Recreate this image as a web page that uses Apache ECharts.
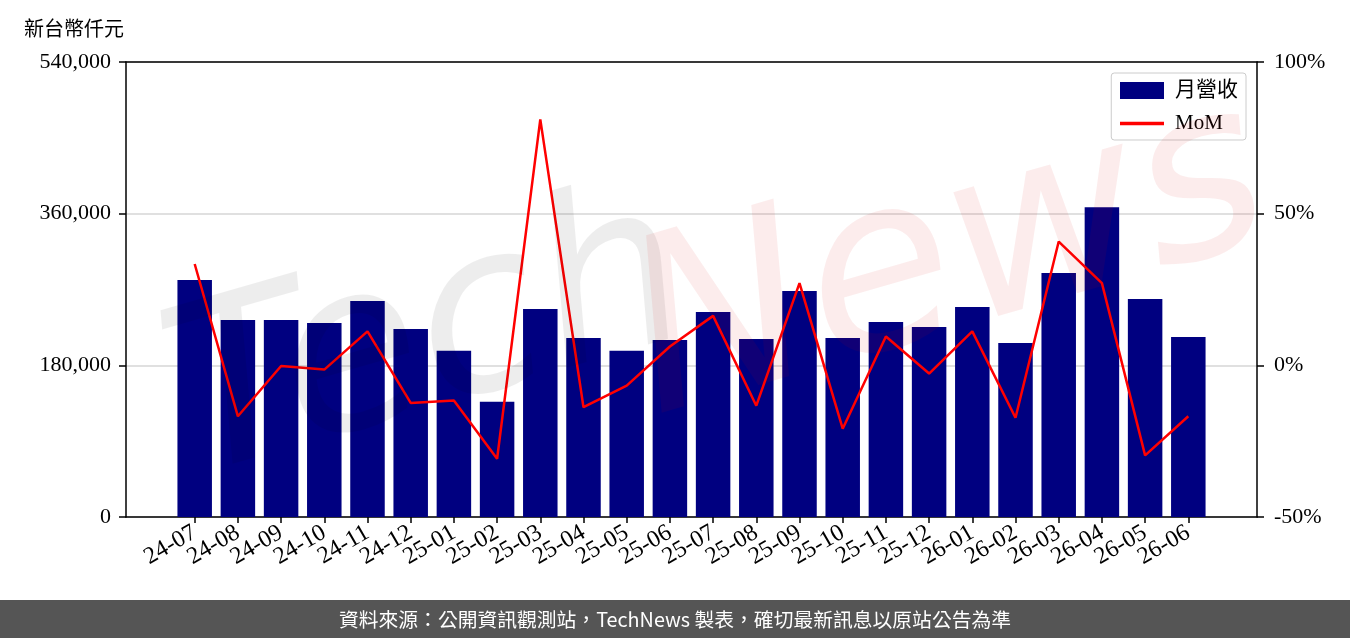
<!DOCTYPE html>
<html>
<head>
<meta charset="utf-8">
<script src="https://cdn.jsdelivr.net/npm/echarts@6/dist/echarts.min.js"></script>
<style>html,body{margin:0;padding:0;background:#fff}#c{width:1350px;height:638px}</style>
</head>
<body>
<div id="c"></div>
<script>
var categories = ['24-07','24-08','24-09','24-10','24-11','24-12','25-01','25-02','25-03','25-04','25-05','25-06','25-07','25-08','25-09','25-10','25-11','25-12','26-01','26-02','26-03','26-04','26-05','26-06'];
var revenue = [281250,233880,233880,230330,256380,223220,197170,136770,246900,212560,197170,210200,243350,211380,268220,212560,231510,225590,249270,206640,289540,367690,258750,213750];
var mom = [33.4,-16.8,-0.2,-1.4,11.2,-12.4,-11.6,-30.8,81.1,-13.8,-6.7,6.2,16.3,-13.3,27.1,-20.9,9.5,-2.7,11.2,-17.3,40.8,27.1,-29.7,-16.8];
var leftTicks = [0,180000,360000,540000];
var rightTicks = [-50,0,50,100];

var serif = '"Liberation Serif", "DejaVu Serif", serif';
var cjk = '"Noto Sans CJK TC", "Noto Sans CJK SC", sans-serif';
var blackLine = {show:true, onZero:false, lineStyle:{color:'#000', width:1.5}};

// frame geometry: x range padded like the reference (5% margin around bars)
var xMin = -1.59, xMax = 24.59;
var gridLeft = 126, gridRight = 93, W = 1350;
var plotW = W - gridLeft - gridRight;
var step = plotW / (xMax - xMin);
var labelLeft = gridLeft + (-0.5 - xMin) * step;
var labelRight = W - (labelLeft + categories.length * step);

var chart = echarts.init(document.getElementById('c'), null, {renderer:'canvas'});
chart.setOption({
  animation:false,
  backgroundColor:'#fff',
  title:{text:'新台幣仟元', left:19, top:13, textStyle:{fontFamily:cjk, fontSize:20, fontWeight:'normal', color:'#000'}},
  grid:[
    {left:gridLeft, right:gridRight, top:62, bottom:121},
    {left:labelLeft, right:labelRight, top:62, bottom:121}
  ],
  legend:{
    orient:'vertical', right:104, top:73, itemWidth:44, itemHeight:17, itemGap:12,
    padding:[7,8,6,7], backgroundColor:'#fff', borderColor:'#cccccc', borderWidth:1, borderRadius:3,
    textStyle:{fontFamily:serif+','+cjk, fontSize:21, color:'#000', padding:[0,0,0,6]},
    data:[{name:'月營收', icon:'rect'},{name:'MoM', itemStyle:{opacity:0}, lineStyle:{width:3.5}}]
  },
  xAxis:[{
    gridIndex:0, type:'value', min:xMin, max:xMax, position:'bottom',
    axisLine:blackLine, splitLine:{show:false}, axisTick:{show:false}, axisLabel:{show:false}
  },{
    gridIndex:0, type:'value', min:xMin, max:xMax, position:'top',
    axisLine:blackLine, axisTick:{show:false}, axisLabel:{show:false}, splitLine:{show:false}
  },{
    gridIndex:1, type:'category', data:categories, position:'bottom', boundaryGap:true,
    axisLine:{show:false},
    axisTick:{show:true, alignWithLabel:true, interval:0, length:6, lineStyle:{color:'#000', width:1.5}},
    axisLabel:{show:true, interval:0, rotate:30, margin:14, fontFamily:serif, fontSize:24, color:'#000'},
    splitLine:{show:false}
  }],
  yAxis:[{
    gridIndex:0, type:'value', min:0, max:540000, interval:180000, position:'left',
    axisLine:blackLine,
    axisTick:{show:true, length:7, lineStyle:{color:'#000', width:1.5}},
    splitLine:{show:true, lineStyle:{color:'#d6d6d6', width:1.5}},
    axisLabel:{margin:15, fontFamily:serif, fontSize:22, color:'#000',
      formatter:function(v){return v.toLocaleString('en-US');}}
  },{
    gridIndex:0, type:'value', min:-50, max:100, interval:50, position:'right',
    axisLine:blackLine,
    axisTick:{show:true, length:7, lineStyle:{color:'#000', width:1.5}},
    splitLine:{show:false},
    axisLabel:{margin:17, fontFamily:serif, fontSize:22, color:'#000', formatter:'{value}%'}
  },{
    gridIndex:1, type:'value', show:false
  }],
  series:[{
    name:'月營收', type:'bar', xAxisIndex:0, yAxisIndex:0, barWidth:34.5,
    itemStyle:{color:'#000080'},
    data:revenue.map(function(v,i){return [i,v];}), z:2
  },{
    name:'MoM', type:'line', xAxisIndex:0, yAxisIndex:1, symbol:'none', showSymbol:false,
    lineStyle:{color:'#ff0000', width:2.5}, itemStyle:{color:'#ff0000'},
    data:mom.map(function(v,i){return [i,v];}), z:3
  }],
  graphic:[
    {type:'text', silent:true, z:100, x:430, y:345, rotation:0.28,
      style:{text:'Tech', fontSize:230, fontStyle:'italic', fontFamily:'"DejaVu Sans"', fill:'rgba(0,0,0,0.07)', align:'center', verticalAlign:'middle'}},
    {type:'text', silent:true, z:100, x:950, y:265, rotation:0.28,
      style:{text:'News', fontSize:240, fontStyle:'italic', fontFamily:'"DejaVu Sans"', fill:'rgba(220,0,0,0.075)', align:'center', verticalAlign:'middle'}},
    {type:'rect', silent:true, z:100, shape:{x:0, y:600, width:1350, height:38}, style:{fill:'#555555'}},
    {type:'text', silent:true, z:101, x:675, y:619,
      style:{text:'資料來源：公開資訊觀測站，TechNews 製表，確切最新訊息以原站公告為準', fontFamily:cjk, fontSize:19.8, fill:'#ffffff', align:'center', verticalAlign:'middle'}}
  ]
});
</script>
</body>
</html>
